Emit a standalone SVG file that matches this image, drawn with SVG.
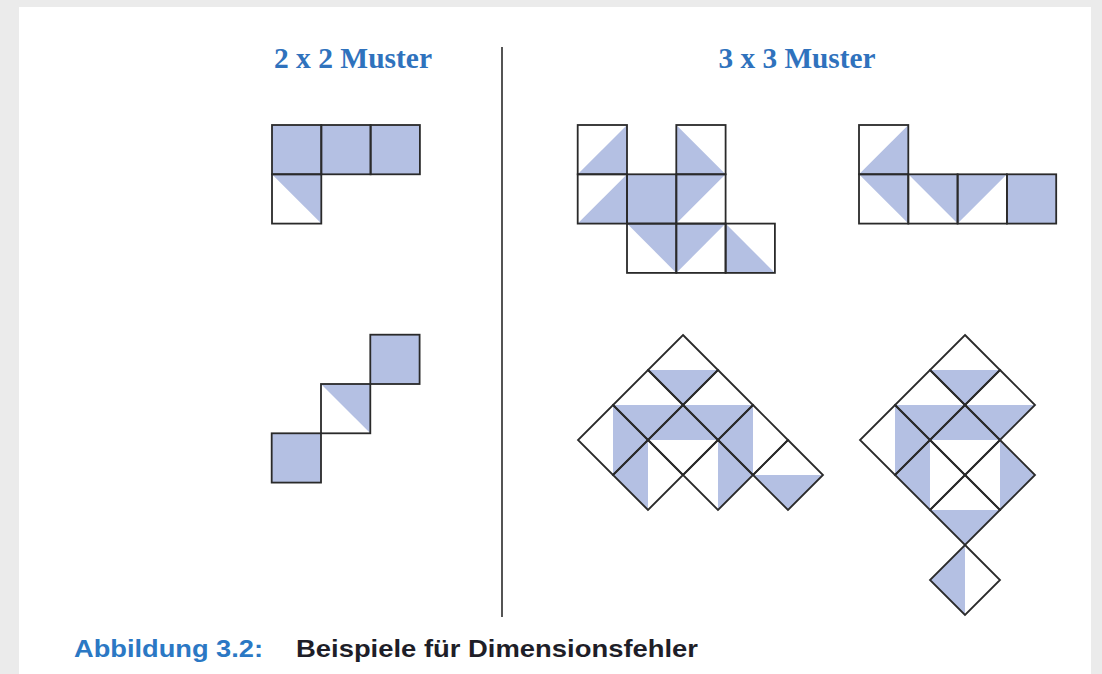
<svg xmlns="http://www.w3.org/2000/svg" width="1102" height="674" viewBox="0 0 1102 674">
  <style>
    .cell { fill: none; stroke: #2a2a2a; stroke-width: 1.8; stroke-linejoin: miter; }
    .blue { fill: #b4c0e3; stroke: none; }
    .title { font-family: "Liberation Serif", "Times New Roman", serif; font-weight: bold; font-size: 29px; fill: #2f72bd; }
    .cap { font-family: "Liberation Sans", Arial, sans-serif; font-weight: bold; font-size: 24px; }
  </style>

  <!-- page background and white panel -->
  <rect x="0" y="0" width="1102" height="674" fill="#ebebeb"/>
  <rect x="19" y="7" width="1072" height="667" fill="#ffffff"/>

  <!-- column headings -->
  <text class="title" x="353" y="68" text-anchor="middle" textLength="158" lengthAdjust="spacingAndGlyphs">2 x 2 Muster</text>
  <text class="title" x="797" y="68" text-anchor="middle" textLength="157" lengthAdjust="spacingAndGlyphs">3 x 3 Muster</text>

  <!-- column divider -->
  <line x1="502" y1="47" x2="502" y2="617" stroke="#2a2a2a" stroke-width="1.6"/>

  <!-- 2x2: L shape -->
  <g id="p2-a">
    <rect class="blue" x="272" y="125" width="148" height="49.3"/>
    <polygon class="blue" points="272,174.3 321.3,174.3 321.3,223.6"/>
    <rect class="cell" x="272" y="125" width="49.3" height="49.3"/>
    <rect class="cell" x="321.3" y="125" width="49.3" height="49.3"/>
    <rect class="cell" x="370.6" y="125" width="49.3" height="49.3"/>
    <rect class="cell" x="272" y="174.3" width="49.3" height="49.3"/>
  </g>

  <!-- 2x2: staircase -->
  <g id="p2-b">
    <rect class="blue" x="370.3" y="334.7" width="49.3" height="49.3"/>
    <polygon class="blue" points="321,384 370.3,384 370.3,433.3"/>
    <rect class="blue" x="271.7" y="433.3" width="49.3" height="49.3"/>
    <rect class="cell" x="370.3" y="334.7" width="49.3" height="49.3"/>
    <rect class="cell" x="321" y="384" width="49.3" height="49.3"/>
    <rect class="cell" x="271.7" y="433.3" width="49.3" height="49.3"/>
  </g>

  <!-- 3x3: square cells, left -->
  <g id="p3-a">
    <polygon class="blue" points="577.7,174.3 627,125 627,174.3"/>
    <polygon class="blue" points="676.3,125 676.3,174.3 725.6,174.3"/>
    <polygon class="blue" points="577.7,223.6 627,174.3 627,223.6"/>
    <rect class="blue" x="627" y="174.3" width="49.3" height="49.3"/>
    <polygon class="blue" points="676.3,174.3 725.6,174.3 676.3,223.6"/>
    <polygon class="blue" points="627,223.6 676.3,223.6 676.3,272.9"/>
    <polygon class="blue" points="676.3,223.6 725.6,223.6 676.3,272.9"/>
    <polygon class="blue" points="725.6,223.6 725.6,272.9 774.9,272.9"/>
    <rect class="cell" x="577.7" y="125" width="49.3" height="49.3"/>
    <rect class="cell" x="676.3" y="125" width="49.3" height="49.3"/>
    <rect class="cell" x="577.7" y="174.3" width="49.3" height="49.3"/>
    <rect class="cell" x="627" y="174.3" width="49.3" height="49.3"/>
    <rect class="cell" x="676.3" y="174.3" width="49.3" height="49.3"/>
    <rect class="cell" x="627" y="223.6" width="49.3" height="49.3"/>
    <rect class="cell" x="676.3" y="223.6" width="49.3" height="49.3"/>
    <rect class="cell" x="725.6" y="223.6" width="49.3" height="49.3"/>
  </g>

  <!-- 3x3: square cells, right -->
  <g id="p3-b">
    <polygon class="blue" points="859,174.3 908.3,125 908.3,174.3"/>
    <polygon class="blue" points="859,174.3 908.3,174.3 908.3,223.6"/>
    <polygon class="blue" points="908.3,174.3 957.6,174.3 957.6,223.6"/>
    <polygon class="blue" points="957.6,174.3 1006.9,174.3 957.6,223.6"/>
    <rect class="blue" x="1006.9" y="174.3" width="49.3" height="49.3"/>
    <rect class="cell" x="859" y="125" width="49.3" height="49.3"/>
    <rect class="cell" x="859" y="174.3" width="49.3" height="49.3"/>
    <rect class="cell" x="908.3" y="174.3" width="49.3" height="49.3"/>
    <rect class="cell" x="957.6" y="174.3" width="49.3" height="49.3"/>
    <rect class="cell" x="1006.9" y="174.3" width="49.3" height="49.3"/>
  </g>

  <!-- 3x3: diamond cells, left -->
  <g id="p3-c">
    <polygon class="blue" points="648,370 718,370 683,405"/>
    <polygon class="blue" points="613,405 753,405 718,440 648,440"/>
    <polygon class="blue" points="613,405 648,440 648,510 613,475"/>
    <polygon class="blue" points="753,405 753,475 718,510 718,440"/>
    <polygon class="blue" points="753,475 823,475 788,510"/>
    <polygon class="cell" points="683,335 718,370 683,405 648,370"/>
    <polygon class="cell" points="648,370 683,405 648,440 613,405"/>
    <polygon class="cell" points="718,370 753,405 718,440 683,405"/>
    <polygon class="cell" points="613,405 648,440 613,475 578,440"/>
    <polygon class="cell" points="683,405 718,440 683,475 648,440"/>
    <polygon class="cell" points="753,405 788,440 753,475 718,440"/>
    <polygon class="cell" points="648,440 683,475 648,510 613,475"/>
    <polygon class="cell" points="718,440 753,475 718,510 683,475"/>
    <polygon class="cell" points="788,440 823,475 788,510 753,475"/>
  </g>

  <!-- 3x3: diamond cells, right -->
  <g id="p3-d">
    <polygon class="blue" points="930,370 1000,370 965,405"/>
    <polygon class="blue" points="895,405 1035,405 1000,440 930,440"/>
    <polygon class="blue" points="895,405 930,440 930,510 895,475"/>
    <polygon class="blue" points="1000,440 1035,475 1000,510"/>
    <polygon class="blue" points="930,510 1000,510 965,545"/>
    <polygon class="blue" points="965,545 930,580 965,615"/>
    <polygon class="cell" points="965,335 1000,370 965,405 930,370"/>
    <polygon class="cell" points="930,370 965,405 930,440 895,405"/>
    <polygon class="cell" points="1000,370 1035,405 1000,440 965,405"/>
    <polygon class="cell" points="895,405 930,440 895,475 860,440"/>
    <polygon class="cell" points="965,405 1000,440 965,475 930,440"/>
    <polygon class="cell" points="930,440 965,475 930,510 895,475"/>
    <polygon class="cell" points="1000,440 1035,475 1000,510 965,475"/>
    <polygon class="cell" points="965,475 1000,510 965,545 930,510"/>
    <polygon class="cell" points="965,545 1000,580 965,615 930,580"/>
  </g>

  <!-- figure caption -->
  <text class="cap" x="74" y="657" fill="#2b78c4" textLength="189" lengthAdjust="spacingAndGlyphs">Abbildung 3.2:</text>
  <text class="cap" x="296" y="657" fill="#1e1e28" textLength="402" lengthAdjust="spacingAndGlyphs">Beispiele für Dimensionsfehler</text>
</svg>
